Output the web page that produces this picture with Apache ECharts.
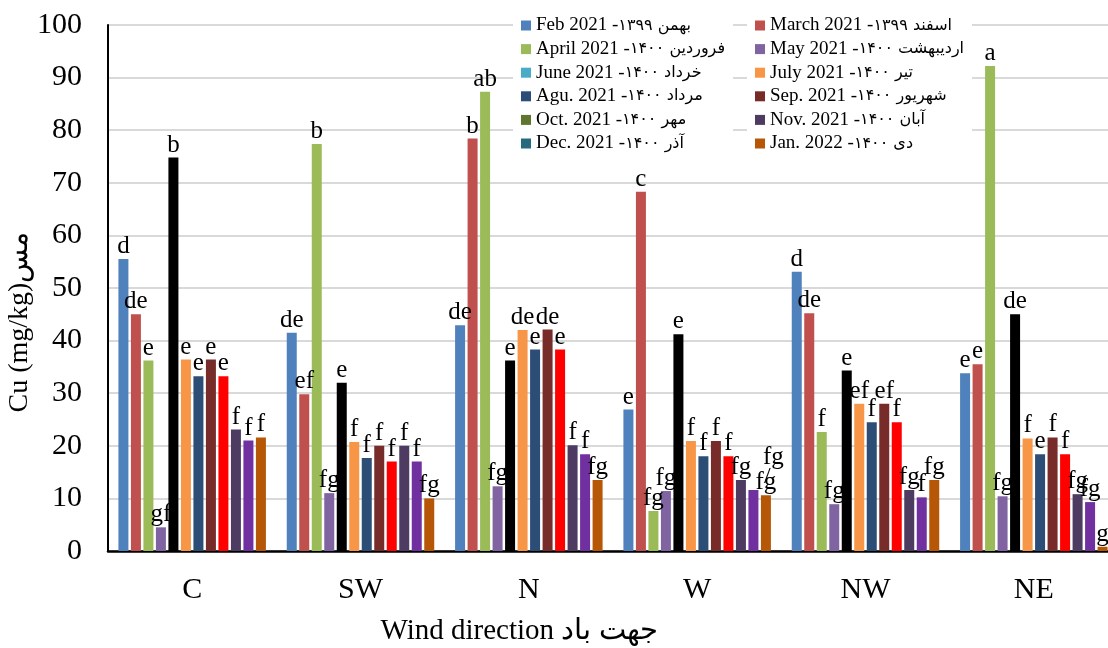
<!DOCTYPE html>
<html>
<head>
<meta charset="utf-8">
<script src="https://cdn.jsdelivr.net/npm/echarts@6/dist/echarts.min.js"></script>
<style>html,body{margin:0;padding:0;background:#fff}#c{width:1108px;height:648px}</style>
</head>
<body>
<div id="c"></div>
<script>
const categories = ['C', 'SW', 'N', 'W', 'NW', 'NE'];
const monthsEn = ['Feb 2021 -', 'March 2021 -', 'April 2021 -', 'May 2021 -', 'June 2021 -', 'July 2021 -',
  'Agu. 2021 -', 'Sep. 2021 -', 'Oct. 2021 -', 'Nov. 2021 -', 'Dec. 2021 -', 'Jan. 2022 -'];
const monthsFa = ['۱۳۹۹ بهمن', '۱۳۹۹ اسفند', '۱۴۰۰ فروردین', '۱۴۰۰ اردیبهشت', '۱۴۰۰ خرداد', '۱۴۰۰ تیر',
  '۱۴۰۰ مرداد', '۱۴۰۰ شهریور', '۱۴۰۰ مهر', '۱۴۰۰ آبان', '۱۴۰۰ آذر', '۱۴۰۰ دی'];
const yTicks = [0, 10, 20, 30, 40, 50, 60, 70, 80, 90, 100];

// values per month, ordered by categories C, SW, N, W, NW, NE
const feb   = [55.5, 41.5, 42.9, 26.9, 53.1, 33.8];
const march = [45.0, 29.8, 78.4, 68.3, 45.2, 35.5];
const april = [36.2, 77.4, 87.3, 7.6, 22.6, 92.2];
const may   = [4.5, 11.0, 12.3, 11.4, 8.9, 10.4];
const june  = [74.8, 32.0, 36.2, 41.2, 34.3, 45.0];
const july  = [36.4, 20.7, 42.0, 20.9, 28.0, 21.4];
const agu   = [33.2, 17.7, 38.3, 18.0, 24.5, 18.4];
const sep   = [36.4, 20.0, 42.1, 20.9, 28.0, 21.6];
const oct   = [33.2, 17.0, 38.3, 18.0, 24.5, 18.4];
const nov   = [23.1, 20.0, 20.1, 13.5, 11.6, 10.8];
const dec   = [21.0, 17.0, 18.4, 11.6, 10.2, 9.3];
const jan   = [21.6, 10.0, 13.5, 10.6, 13.5, 0.8];

// significance letters per month
const lFeb   = ['d', 'de', 'de', 'e', 'd', 'e'];
const lMarch = ['de', 'ef', 'b', 'c', 'de', 'e'];
const lApril = ['e', 'b', 'ab', 'fg', 'f', 'a'];
const lMay   = ['gf', 'fg', 'fg', 'fg', 'fg', 'fg'];
const lJune  = ['b', 'e', 'e', 'e', 'e', 'de'];
const lJuly  = ['e', 'f', 'de', 'f', 'ef', 'f'];
const lAgu   = ['e', 'f', 'e', 'f', 'f', 'e'];
const lSep   = ['e', 'f', 'de', 'f', 'ef', 'f'];
const lOct   = ['e', 'f', 'e', 'f', 'f', 'f'];
const lNov   = ['f', 'f', 'f', 'fg', 'fg', 'fg'];
const lDec   = ['f', 'f', 'f', 'fg', 'f', 'fg'];
const lJan   = ['f', 'fg', 'fg', 'fg', 'fg', 'g'];

const values = [feb, march, april, may, june, july, agu, sep, oct, nov, dec, jan];
const letters = [lFeb, lMarch, lApril, lMay, lJune, lJuly, lAgu, lSep, lOct, lNov, lDec, lJan];
const barColors = ['#4F81BD', '#C0504D', '#9BBB59', '#8064A2', '#000000', '#F79646',
  '#2C4D75', '#772C2A', '#FF0000', '#4D3B62', '#7030A0', '#B65708'];
const legendColors = ['#4F81BD', '#C0504D', '#9BBB59', '#8064A2', '#4BACC6', '#F79646',
  '#2C4D75', '#772C2A', '#5F7530', '#4D3B62', '#276A7C', '#B65708'];

const SERIF = "'Liberation Serif', 'Times New Roman', serif";
const names = monthsEn.map((e, i) => e + monthsFa[i]);

const series = values.map((vals, i) => ({
  name: names[i],
  type: 'bar',
  barWidth: 10,
  barGap: '25%',
  itemStyle: { color: barColors[i] },
  label: {
    show: true,
    position: 'top',
    distance: 0,
    fontFamily: SERIF,
    fontSize: 25,
    color: '#000',
    formatter: p => letters[i][p.dataIndex]
  },
  data: vals.map((v, j) => {
    const d = { value: v };
    if (i === 10 && j === 3) d.label = { formatter: '{t|fg}\n{s|/}', offset: [14, -4], rich: { t: { fontFamily: SERIF, fontSize: 25, lineHeight: 22, padding: [0, 0, 0, 12] }, s: { fontFamily: SERIF, fontSize: 24, lineHeight: 18 } } };
    return d;
  })
}));

function legendFor(idx, left) {
  return {
    left: left, top: 12, orient: 'vertical',
    backgroundColor: '#fff',
    padding: [4, 8, 4, 8],
    itemWidth: 10, itemHeight: 10, itemGap: 4.6,
    icon: 'rect',
    selectedMode: false,
    data: idx.map(i => ({ name: names[i], itemStyle: { color: legendColors[i] } })),
    formatter: n => { const i = names.indexOf(n); return '{a|' + monthsEn[i] + '}{b|' + monthsFa[i] + '}'; },
    textStyle: {
      rich: {
        a: { fontFamily: SERIF, fontSize: 19, color: '#000', lineHeight: 20 },
        b: { fontFamily: "'DejaVu Sans', 'Noto Sans', sans-serif", fontSize: 16, color: '#000', lineHeight: 20 }
      }
    }
  };
}

const chart = echarts.init(document.getElementById('c'), null, { renderer: 'canvas' });
chart.setOption({
  backgroundColor: '#fff',
  animation: false,
  grid: { left: 108, width: 1010, top: 25, bottom: 97, containLabel: false, outerBoundsMode: 'none' },
  legend: [legendFor([0, 2, 4, 6, 8, 10], 513), legendFor([1, 3, 5, 7, 9, 11], 747)],
  xAxis: {
    type: 'category',
    data: categories,
    axisLine: { lineStyle: { color: '#000', width: 2.5 } },
    axisTick: { show: false },
    axisLabel: { fontFamily: SERIF, fontSize: 30, color: '#000', margin: 24 },
    name: 'Wind direction جهت باد',
    nameLocation: 'middle',
    nameGap: 66,
    nameMoveOverlap: false,
    nameTextStyle: { fontFamily: SERIF, fontSize: 29, color: '#000', padding: [0, 188, 0, 0] }
  },
  yAxis: {
    type: 'value',
    min: 0, max: 100, interval: 10,
    axisLine: { show: true, lineStyle: { color: '#000', width: 2 } },
    axisTick: { show: false },
    splitLine: { lineStyle: { color: '#d9d9d9', width: 2 } },
    axisLabel: { fontFamily: SERIF, fontSize: 30, color: '#000', margin: 26,
      formatter: v => yTicks.indexOf(v) >= 0 ? String(v) : '' },
    name: 'Cu (mg/kg)مس',
    nameLocation: 'middle',
    nameGap: 74,
    nameMoveOverlap: false,
    nameTextStyle: { fontFamily: SERIF, fontSize: 28, color: '#000', padding: [0, 68, 0, 0] }
  },
  series: series
});
</script>
</body>
</html>
